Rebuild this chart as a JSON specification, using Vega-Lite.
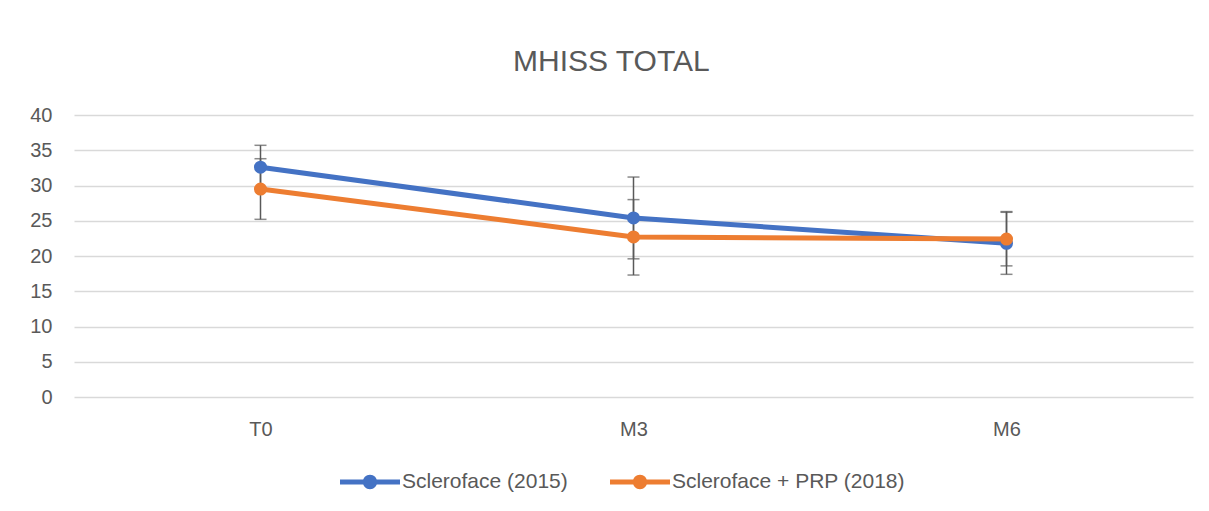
{
  "$schema": "https://vega.github.io/schema/vega-lite/v6.json",
  "width": 1119,
  "height": 282,
  "autosize": {"type": "none"},
  "padding": {"left": 74, "top": 115, "right": 16, "bottom": 114},
  "background": "white",
  "config": {
    "font": "Liberation Sans",
    "view": {"stroke": null},
    "axisY": {
      "labelOverlap": false,
      "title": null,
      "grid": true,
      "gridColor": "#d9d9d9",
      "gridWidth": 1.3,
      "domain": false,
      "ticks": false,
      "labelPadding": 22,
      "labelFontSize": 20,
      "labelColor": "#595959"
    }
  },
  "title": {
    "text": "MHISS TOTAL",
    "fontSize": 30,
    "font": "Liberation Sans",
    "fontWeight": "normal",
    "color": "#595959",
    "offset": 28,
    "anchor": "middle",
    "frame": "bounds"
  },
  "data": {
    "values": [
      {"time": "T0", "series": "Scleroface (2015)", "value": 32.6, "lo": 29.5, "hi": 35.7},
      {"time": "M3", "series": "Scleroface (2015)", "value": 25.4, "lo": 19.6, "hi": 31.2},
      {"time": "M6", "series": "Scleroface (2015)", "value": 21.8, "lo": 17.4, "hi": 26.2},
      {"time": "T0", "series": "Scleroface + PRP (2018)", "value": 29.5, "lo": 25.2, "hi": 33.8},
      {"time": "M3", "series": "Scleroface + PRP (2018)", "value": 22.7, "lo": 17.3, "hi": 28.0},
      {"time": "M6", "series": "Scleroface + PRP (2018)", "value": 22.4, "lo": 18.6, "hi": 26.3}
    ]
  },
  "encoding": {
    "x": {
      "field": "time",
      "type": "ordinal",
      "sort": ["T0", "M3", "M6"],
      "scale": {"type": "point", "padding": 0.5},
      "axis": {
        "title": null,
        "labelAngle": 0,
        "domain": false,
        "ticks": false,
        "grid": false,
        "labelPadding": 22,
        "labelFontSize": 20,
        "labelColor": "#595959"
      }
    }
  },
  "layer": [
    {
      "mark": {"type": "rule", "color": "#595959", "strokeWidth": 1.5},
      "encoding": {
        "y": {"field": "lo", "type": "quantitative", "scale": {"domain": [0, 40]}, "axis": {"values": [0, 5, 10, 15, 20, 25, 30, 35, 40]}},
        "y2": {"field": "hi"}
      }
    },
    {
      "mark": {"type": "tick", "orient": "horizontal", "size": 12, "thickness": 1.5, "color": "#595959"},
      "encoding": {"y": {"field": "lo", "type": "quantitative", "axis": {"values": [0, 5, 10, 15, 20, 25, 30, 35, 40]}}}
    },
    {
      "mark": {"type": "tick", "orient": "horizontal", "size": 12, "thickness": 1.5, "color": "#595959"},
      "encoding": {"y": {"field": "hi", "type": "quantitative", "axis": {"values": [0, 5, 10, 15, 20, 25, 30, 35, 40]}}}
    },
    {
      "mark": {"type": "line", "strokeWidth": 5},
      "encoding": {
        "y": {"field": "value", "type": "quantitative", "axis": {"values": [0, 5, 10, 15, 20, 25, 30, 35, 40]}},
        "color": {
          "field": "series",
          "type": "nominal",
          "scale": {
            "domain": ["Scleroface (2015)", "Scleroface + PRP (2018)"],
            "range": ["#4472C4", "#ED7D31"]
          },
          "legend": {
            "title": null,
            "orient": "none",
            "legendX": 266,
            "legendY": 337,
            "direction": "horizontal",
            "symbolType": "M-1,-0.08H1V0.08H-1Z M-0.24,0A0.24,0.24 0 1,1 0.24,0A0.24,0.24 0 1,1 -0.24,0Z",
            "symbolSize": 3600,
            "symbolStrokeWidth": 0,
            "labelFontSize": 21,
            "labelLimit": 400,
            "labelColor": "#595959",
            "labelOffset": 2,
            "columnPadding": 42,
            "encode": {
              "symbols": {"update": {"fill": {"scale": "color", "field": "value"}, "fillOpacity": {"value": 1}}}
            }
          }
        }
      }
    },
    {
      "mark": {"type": "point", "filled": true, "size": 170, "opacity": 1},
      "encoding": {
        "y": {"field": "value", "type": "quantitative", "axis": {"values": [0, 5, 10, 15, 20, 25, 30, 35, 40]}},
        "color": {"field": "series", "type": "nominal"}
      }
    }
  ]
}
